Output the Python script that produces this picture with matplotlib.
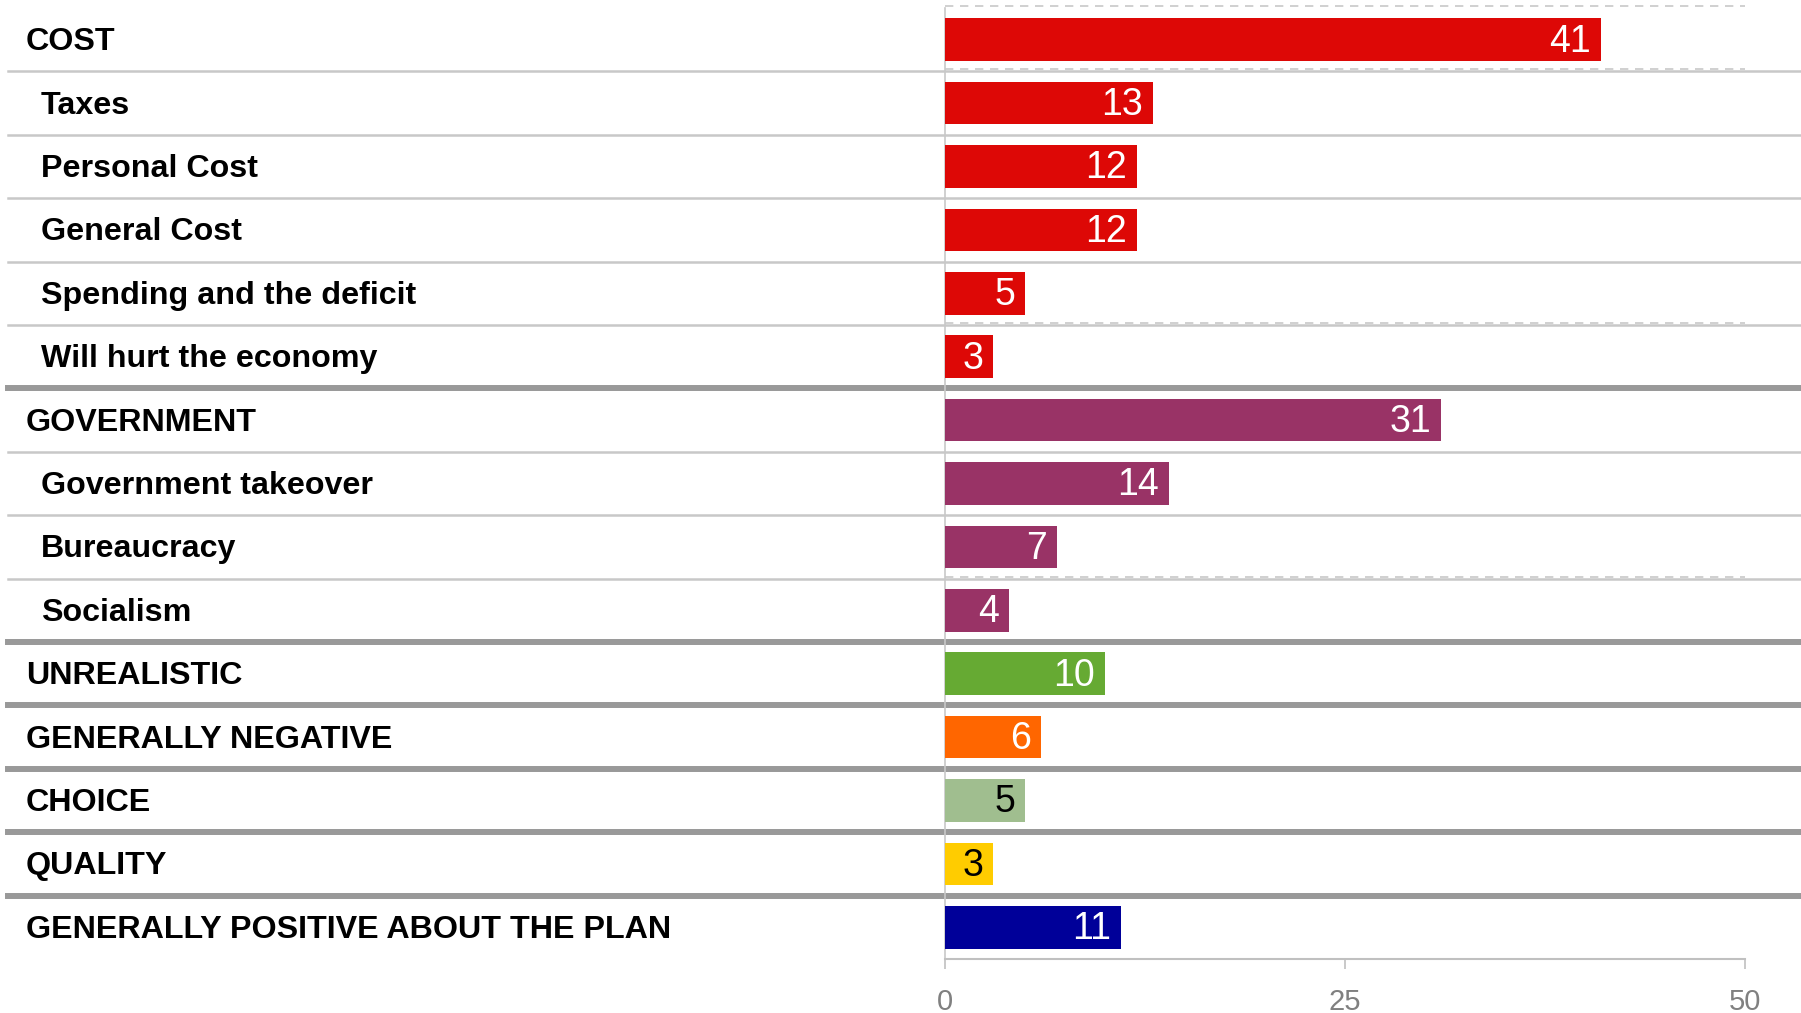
import numpy as np
import matplotlib
matplotlib.use("Agg")
import matplotlib.pyplot as plt

labels = ["COST", "Taxes", "Personal Cost", "General Cost", "Spending and the deficit",
          "Will hurt the economy", "GOVERNMENT", "Government takeover", "Bureaucracy",
          "Socialism", "UNREALISTIC", "GENERALLY NEGATIVE", "CHOICE", "QUALITY",
          "GENERALLY POSITIVE ABOUT THE PLAN"]
values = [41, 13, 12, 12, 5, 3, 31, 14, 7, 4, 10, 6, 5, 3, 11]
is_header = [True, False, False, False, False, False, True, False, False, False,
             True, True, True, True, True]
colors = ["#DD0806"] * 6 + ["#993366"] * 4 + ["#66AA33", "#FF6600", "#A0BE8F", "#FFCC00", "#000099"]
text_colors = ["white"] * 12 + ["black", "black", "white"]
thick_rows = [6, 10, 11, 12, 13, 14]
dashed_rows = [0, 1, 5, 9, 13]
xticks = [0, 25, 50]

W, H = 1801, 1013
fig = plt.figure(figsize=(W / 100, H / 100), dpi=100)
left, right = 945, 1745
top, bottom = 8, 959
ax = fig.add_axes([left / W, 1 - bottom / H, (right - left) / W, (bottom - top) / H])

n = len(labels)
y = np.arange(n) + 0.5
ax.barh(y, values, height=0.67, color=colors, zorder=3)
ax.set_xlim(0, 50)
ax.set_ylim(n, 0)

num_font = ["Liberation Sans Narrow", "Liberation Sans"]
for yi, v, tc in zip(y, values, text_colors):
    ax.annotate(str(v), xy=(v, yi + 0.03), xytext=(-7, 0), textcoords="offset points",
                ha="right", va="center", color=tc, fontsize=27, family=num_font, zorder=4)

# row separators
xmin = (8 - left) / (right - left)
xmax = (W - left) / (right - left)
for b in range(1, n):
    if b in thick_rows:
        ax.axhline(b, xmin=xmin, xmax=xmax, color="#999999", lw=4.3, clip_on=False, zorder=2)
    else:
        ax.axhline(b, xmin=xmin, xmax=xmax, color="#C8C8C8", lw=1.8, clip_on=False, zorder=2)

for b in dashed_rows:
    ax.plot([0, 50], [b - 0.03, b - 0.03], color="#C8C8C8", lw=1.2, ls=(0, (5, 4)),
            clip_on=False, zorder=1)

# left labels
trans = matplotlib.transforms.blended_transform_factory(fig.transFigure, ax.transData)
for yi, lab, hd in zip(y, labels, is_header):
    x0 = 26 if hd else 41
    ax.text(x0 / W, yi + 0.04, lab, transform=trans, ha="left", va="center", fontsize=23.2,
            fontweight="bold", family="Liberation Sans", color="black")

for s in ["top", "right"]:
    ax.spines[s].set_visible(False)
ax.spines["left"].set_color("#C8C8C8")
ax.spines["left"].set_linewidth(1.2)
ax.spines["bottom"].set_color("#C0C0C0")
ax.spines["bottom"].set_linewidth(1.5)
ax.set_yticks([])
ax.set_xticks(xticks)
ax.set_xticklabels([str(t) for t in xticks], fontsize=21, color="#808080", family=num_font)
ax.tick_params(axis="x", length=7, width=1.2, color="#C0C0C0", pad=14)

fig.savefig("out.png", dpi=100)
